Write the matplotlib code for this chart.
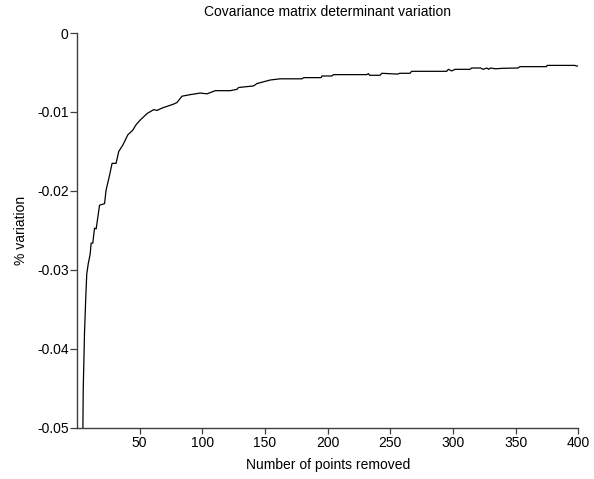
import matplotlib
matplotlib.use("Agg")
import matplotlib.pyplot as plt

plt.rcParams['font.family'] = ['Liberation Sans', 'DejaVu Sans']

# points (number removed, % variation)
n_removed = [1, 4, 5, 6, 7, 7.8, 9, 10.5, 11.3, 12.6, 14, 15.3, 18, 22, 23.2,
             26, 28, 31.2, 33.3, 36.5, 37.8, 40.5, 44.5, 47.2, 50.6, 55.9,
             61.2, 63.9, 67.9, 77.1, 79.8, 83.8, 90.4, 98.4, 103.7, 110.4,
             122.3, 127.6, 128.9, 140.9, 143.6, 154.2, 162, 179.5, 181,
             194.8, 195.4, 203.4, 204.6, 231.2, 232.5, 233.5, 241.8, 243.2,
             255.6, 257.7, 265.7, 267, 295, 296.3, 299, 301.6, 313.5, 314.9,
             322, 324.1, 327, 328.5, 330, 334, 339.4, 352, 353.3, 374.6,
             375.1, 397.2, 398.5, 400]
variation = [-0.2, -0.062, -0.045, -0.038, -0.0335, -0.0305, -0.0292, -0.0280,
             -0.0266, -0.0266, -0.0247, -0.0248, -0.0218, -0.0216, -0.0199,
             -0.0180, -0.0165, -0.0165, -0.0150, -0.0142, -0.0138, -0.0129,
             -0.0123, -0.0116, -0.0110, -0.0102, -0.0097, -0.0098, -0.0095,
             -0.0090, -0.0088, -0.0080, -0.0078, -0.0076, -0.0077, -0.0073,
             -0.0073, -0.00713, -0.0069, -0.0067, -0.0064, -0.00595, -0.0058,
             -0.0058, -0.00565, -0.00565, -0.00544, -0.00544, -0.00527,
             -0.00527, -0.00514, -0.00535, -0.00535, -0.0051, -0.0052,
             -0.0051, -0.0051, -0.00485, -0.00485, -0.0046, -0.0048, -0.0046,
             -0.0046, -0.00443, -0.00443, -0.0046, -0.00443, -0.0046,
             -0.00443, -0.00453, -0.00447, -0.00443, -0.00426, -0.00426,
             -0.0041, -0.0041, -0.00418, -0.00418]

x_ticks = [50, 100, 150, 200, 250, 300, 350, 400]
y_ticks = [0, -0.01, -0.02, -0.03, -0.04, -0.05]
y_tick_labels = ["0", "-0.01", "-0.02", "-0.03", "-0.04", "-0.05"]

fig = plt.figure(figsize=(5.94, 4.79), dpi=100)
ax = fig.add_axes([0.1296, 0.1065, 0.8440, 0.8246])

ax.plot(n_removed, variation, color='black', linewidth=0.9)

ax.set_xlim(0, 400)
ax.set_ylim(-0.05, 0)
ax.set_xticks(x_ticks)
ax.set_xticklabels([str(t) for t in x_ticks])
ax.set_yticks(y_ticks)
ax.set_yticklabels(y_tick_labels)

for side in ['top', 'right']:
    ax.spines[side].set_visible(False)
for side in ['left', 'bottom']:
    ax.spines[side].set_color('#404040')
    ax.spines[side].set_linewidth(1.0)

ax.tick_params(axis='both', direction='out', length=4, width=0.9,
               color='#404040', labelsize=10)
ax.tick_params(axis='x', pad=2)
ax.tick_params(axis='y', length=5, pad=1)

ax.set_title("Covariance matrix determinant variation", fontsize=10, pad=12)
ax.set_xlabel("Number of points removed", fontsize=10, labelpad=5.5)
ax.set_ylabel("% variation", fontsize=10, labelpad=6.5)

fig.savefig("out.png", dpi=100)
